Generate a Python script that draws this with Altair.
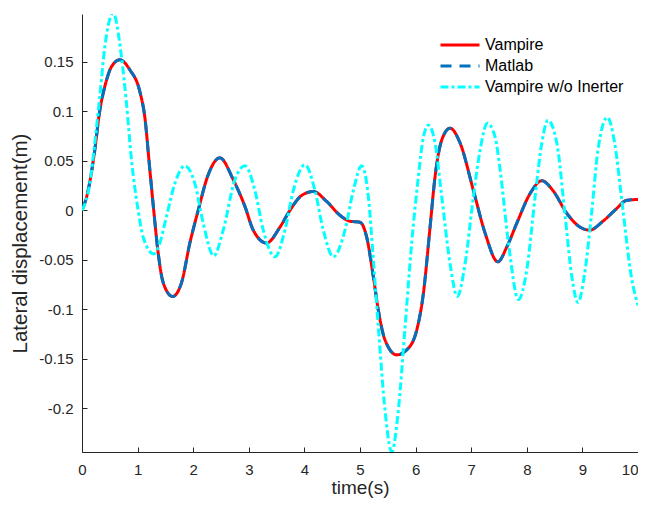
import altair as alt
import pandas as pd

# ---------------- data ----------------
series_names = ["Vampire", "Matlab", "Vampire w/o Inerter"]
series_colors = ["#FF0000", "#0072BD", "#00FFFF"]
series_dashes = [[1, 0], [11, 8], [8, 3, 3, 3]]

t_vampire = [0, 0.11, 0.23, 0.32, 0.41, 0.53, 0.68, 0.86, 1.04, 1.13, 1.22, 1.29,
             1.37, 1.46, 1.63, 1.79, 1.94, 2.09, 2.27, 2.48, 2.72, 2.93, 3.08, 3.32,
             3.56, 3.74, 3.95, 4.16, 4.40, 4.64, 4.82, 5.0, 5.12, 5.24, 5.33, 5.45,
             5.66, 5.84, 6.02, 6.14, 6.26, 6.35, 6.47, 6.62, 6.80, 7.04, 7.25, 7.48,
             7.64, 7.82, 8.06, 8.27, 8.47, 8.72, 8.96, 9.13, 9.37, 9.62, 9.79, 10.0]
v_vampire = [0, 0.020, 0.061, 0.101, 0.125, 0.145, 0.152, 0.142, 0.120, 0.094, 0.041, 0.0,
             -0.043, -0.073, -0.087, -0.073, -0.033, 0.0, 0.036, 0.053, 0.031, 0.004, -0.020, -0.033,
             -0.017, 0.0, 0.015, 0.019, 0.009, -0.005, -0.011, -0.012, -0.027, -0.067, -0.101, -0.131,
             -0.146, -0.141, -0.121, -0.084, -0.017, 0.034, 0.071, 0.083, 0.068, 0.020, -0.023, -0.052,
             -0.037, -0.013, 0.017, 0.030, 0.020, -0.003, -0.017, -0.020, -0.011, 0.002, 0.010, 0.011]

# Matlab result coincides with the Vampire result
t_matlab = list(t_vampire)
v_matlab = list(v_vampire)

t_noinerter = [0, 0.14, 0.23, 0.32, 0.41, 0.56, 0.71, 0.80, 0.89, 1.01, 1.10, 1.29,
               1.40, 1.52, 1.67, 1.85, 2.03, 2.18, 2.37, 2.54, 2.75, 2.93, 3.11, 3.26,
               3.47, 3.65, 3.80, 4.01, 4.19, 4.34, 4.52, 4.73, 4.88, 5.03, 5.15, 5.24,
               5.33, 5.45, 5.57, 5.69, 5.81, 5.93, 6.05, 6.14, 6.23, 6.35, 6.47, 6.62,
               6.75, 6.89, 7.04, 7.16, 7.29, 7.43, 7.52, 7.67, 7.85, 8.0, 8.15, 8.27,
               8.38, 8.54, 8.69, 8.81, 8.92, 9.04, 9.17, 9.28, 9.45, 9.58, 9.73, 9.88, 10.0]
v_noinerter = [0, 0.027, 0.068, 0.115, 0.165, 0.199, 0.155, 0.108, 0.051, 0.0, -0.027, -0.044,
               -0.033, -0.006, 0.027, 0.045, 0.027, -0.013, -0.046, -0.020, 0.031, 0.045, 0.020, -0.020,
               -0.047, -0.020, 0.020, 0.046, 0.020, -0.020, -0.047, -0.020, 0.020, 0.045, 0.014, -0.050,
               -0.118, -0.202, -0.244, -0.202, -0.118, -0.033, 0.034, 0.074, 0.086, 0.068, 0.014, -0.054,
               -0.087, -0.054, 0.014, 0.061, 0.088, 0.074, 0.041, -0.033, -0.090, -0.060, 0.014, 0.068,
               0.091, 0.068, -0.006, -0.067, -0.093, -0.064, 0.0, 0.061, 0.094, 0.068, 0.0, -0.067, -0.096]

x_ticks = list(range(0, 11))
y_ticks = [-0.2, -0.15, -0.1, -0.05, 0, 0.05, 0.1, 0.15]
x_domain = [0, 10]
y_domain = [-0.2441, 0.1983]

rows = []
for name, ts, vs in [("Vampire", t_vampire, v_vampire),
                     ("Matlab", t_matlab, v_matlab),
                     ("Vampire w/o Inerter", t_noinerter, v_noinerter)]:
    for t, v in zip(ts, vs):
        rows.append({"series": name, "t": t, "v": v})
df = pd.DataFrame(rows)

FONT = "Liberation Sans"
AX = "#262626"

x_scale = alt.Scale(domain=x_domain, nice=False, zero=False)
y_scale = alt.Scale(domain=y_domain, nice=False, zero=False)
color_scale = alt.Scale(domain=series_names, range=series_colors)
dash_scale = alt.Scale(domain=series_names, range=series_dashes)

legend = alt.Legend(
    title=None, orient="none", legendX=357, legendY=20.5, direction="vertical",
    symbolType="stroke", symbolSize=1521, symbolStrokeWidth=3, clipHeight=21,
    rowPadding=0, padding=0, labelFont=FONT, labelFontSize=16, labelColor="#000000",
    labelOffset=4, labelLimit=400,
)

x_main = alt.Axis(values=x_ticks, orient="bottom", ticks=False, tickSize=0, grid=False,
                  domainColor=AX, domainWidth=1, labelColor=AX, labelFont=FONT,
                  labelFontSize=15, labelBaseline="alphabetic", labelPadding=22,
                  labelAlign=alt.condition("datum.value == 10", alt.value("right"), alt.value("center")),
                  title="time(s)", titleFont=FONT, titleFontSize=19, titleFontWeight="normal",
                  titleColor=AX, titleBaseline="alphabetic", titleY=41, titleX=278)
y_main = alt.Axis(values=y_ticks, orient="left", ticks=False, tickSize=0, grid=False,
                  domainColor=AX, domainWidth=1, labelColor=AX, labelFont=FONT,
                  labelFontSize=15, labelPadding=9,
                  labelExpr="'' + datum.value",
                  title="Lateral displacement(m)", titleFont=FONT, titleFontSize=20.5,
                  titleFontWeight="normal", titleColor=AX, titleBaseline="alphabetic",
                  titleAngle=270, titleX=-55.5, titleY=229)
x_ticks_axis = alt.Axis(values=x_ticks, orient="bottom", domain=False, labels=False, grid=False,
                        ticks=True, tickSize=5, tickColor=AX, tickWidth=1, offset=-5, title=None)
y_ticks_axis = alt.Axis(values=y_ticks, orient="left", domain=False, labels=False, grid=False,
                        ticks=True, tickSize=5, tickColor=AX, tickWidth=1, offset=-5, title=None)


def series_layer(name, xaxis, yaxis):
    return alt.Chart(df).transform_filter(alt.datum.series == name).mark_line(
        strokeWidth=3, interpolate="monotone", clip=True
    ).encode(
        x=alt.X("t:Q", scale=x_scale, axis=xaxis),
        y=alt.Y("v:Q", scale=y_scale, axis=yaxis),
        color=alt.Color("series:N", scale=color_scale, legend=legend),
        strokeDash=alt.StrokeDash("series:N", scale=dash_scale, legend=legend),
        order=alt.Order("t:Q"),
    )


chart = alt.layer(
    series_layer("Vampire", x_main, y_main),
    series_layer("Matlab", x_ticks_axis, y_ticks_axis),
    series_layer("Vampire w/o Inerter", None, None),
).resolve_axis(x="independent", y="independent").properties(
    width=556, height=438,
    padding={"left": 74, "top": 6, "right": 0, "bottom": 46},
    autosize=alt.AutoSizeParams(type="none"),
    background="#ffffff",
).configure_view(stroke=None)

chart.save("out.html", embed_options={"renderer": "svg", "actions": False})
